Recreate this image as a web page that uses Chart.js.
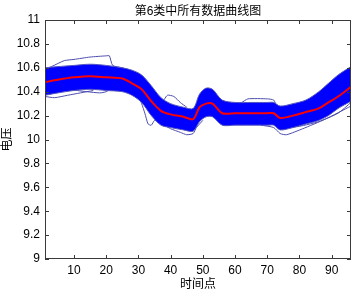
<!DOCTYPE html>
<html>
<head>
<meta charset="utf-8">
<script src="https://cdn.jsdelivr.net/npm/chart.js@4/dist/chart.umd.min.js"></script>
<style>
  html, body { margin: 0; padding: 0; background: #fff; }
  canvas { display: block; }
</style>
</head>
<body>
<canvas id="c" width="354" height="292"></canvas>
<script>
/* 第6类 电压曲线 — 均值 + 数据带 + 离群曲线 */

const xTicks = [10, 20, 30, 40, 50, 60, 70, 80, 90];
const yTicks = [9, 9.2, 9.4, 9.6, 9.8, 10, 10.2, 10.4, 10.6, 10.8, 11];

// 时间点 (采样位置)
const tPts   = [1, 5, 10, 15, 20, 25, 28, 31, 34, 37, 40, 44, 47, 49, 51, 53, 56, 60, 65, 70, 72, 74, 78, 82, 86, 89, 92, 96];
// 红色均值曲线
const meanV  = [10.48, 10.50, 10.52, 10.53, 10.52, 10.51, 10.47, 10.42, 10.32, 10.24, 10.21, 10.19, 10.17, 10.27, 10.30, 10.30, 10.22, 10.22, 10.22, 10.22, 10.22, 10.18, 10.20, 10.23, 10.26, 10.31, 10.36, 10.44];
// 蓝色数据带 上沿 / 下沿
const bandHi = [10.60, 10.61, 10.62, 10.63, 10.62, 10.60, 10.58, 10.54, 10.45, 10.35, 10.30, 10.27, 10.26, 10.38, 10.43, 10.42, 10.33, 10.31, 10.31, 10.31, 10.31, 10.28, 10.30, 10.33, 10.40, 10.47, 10.54, 10.61];
const bandLo = [10.37, 10.39, 10.41, 10.42, 10.41, 10.40, 10.37, 10.31, 10.20, 10.12, 10.10, 10.08, 10.07, 10.15, 10.19, 10.19, 10.12, 10.12, 10.12, 10.12, 10.12, 10.08, 10.10, 10.13, 10.16, 10.20, 10.26, 10.32];

// 离群曲线
const out1T = [1, 3, 7, 10, 15, 20, 21, 22, 25, 28];
const out1V = [10.59, 10.61, 10.66, 10.67, 10.69, 10.70, 10.70, 10.62, 10.60, 10.57];
const out2T = [5, 8, 11, 14, 18, 20, 22, 26];
const out2V = [10.40, 10.43, 10.41, 10.40, 10.39, 10.40, 10.43, 10.41];
const out3T = [30, 31, 32, 33, 34, 35, 36, 38];
const out3V = [10.36, 10.30, 10.22, 10.13, 10.12, 10.16, 10.15, 10.14];
const out4T = [35, 37, 39, 41, 43, 45];
const out4V = [10.33, 10.30, 10.37, 10.36, 10.31, 10.27];
const out5T = [58, 62, 64, 70, 72, 73, 75];
const out5V = [10.30, 10.31, 10.34, 10.34, 10.33, 10.28, 10.27];
const out6T = [68, 72, 74, 76, 81, 88, 96];
const out6V = [10.12, 10.10, 10.05, 10.04, 10.09, 10.17, 10.28];
const out7T = [76, 80, 86, 92, 96];
const out7V = [10.10, 10.11, 10.15, 10.22, 10.31];
const out8T = [38, 40, 43, 45, 47, 48, 50];
const out8V = [10.12, 10.09, 10.06, 10.04, 10.05, 10.10, 10.16];
const out9T = [1, 4, 8, 12, 16];
const out9V = [10.36, 10.35, 10.37, 10.39, 10.41];

const pts = (ts, vs) => ts.map((t, i) => ({x: t, y: vs[i]}));

const FONT = '"Liberation Sans", Arial, "Noto Sans CJK SC", sans-serif';
const outColor = '#4d4db0';

function outlier(ts, vs) {
    return {
        data: pts(ts, vs),
        borderColor: outColor,
        borderWidth: 1,
        pointRadius: 0,
        fill: false,
        tension: 0.2,
    };
}

// MATLAB 风格: 外框 + 四边朝内的刻度
const frame = {
    id: 'frame',
    afterDatasetsDraw(chart) {
        const {ctx, chartArea: a, scales: {x, y}} = chart;
        ctx.save();
        ctx.strokeStyle = '#3a3a3a';
        ctx.lineWidth = 1;
        ctx.strokeRect(a.left + 0.5, a.top + 0.5, a.right - a.left - 1, a.bottom - a.top - 1);
        ctx.beginPath();
        for (const v of xTicks) {
            const px = Math.round(x.getPixelForValue(v)) + 0.5;
            ctx.moveTo(px, a.bottom); ctx.lineTo(px, a.bottom - 4);
            ctx.moveTo(px, a.top); ctx.lineTo(px, a.top + 4);
        }
        for (const v of yTicks) {
            const py = Math.round(y.getPixelForValue(v)) + 0.5;
            ctx.moveTo(a.left, py); ctx.lineTo(a.left + 4, py);
            ctx.moveTo(a.right, py); ctx.lineTo(a.right - 4, py);
        }
        ctx.stroke();
        ctx.restore();
    }
};

new Chart(document.getElementById('c').getContext('2d'), {
    type: 'line',
    data: {
        datasets: [
            {
                data: pts(tPts, meanV),
                borderColor: '#ff0000',
                borderWidth: 2,
                pointRadius: 0,
                fill: false,
                tension: 0.3,
            },
            {
                data: pts(tPts, bandHi),
                borderColor: '#5555c0',
                borderWidth: 1,
                pointRadius: 0,
                fill: false,
                tension: 0.3,
            },
            {
                data: pts(tPts, bandLo),
                borderColor: '#5555c0',
                borderWidth: 1,
                pointRadius: 0,
                fill: 1,
                backgroundColor: '#0000ff',
                tension: 0.3,
            },
            outlier(out1T, out1V),
            outlier(out2T, out2V),
            outlier(out3T, out3V),
            outlier(out4T, out4V),
            outlier(out5T, out5V),
            outlier(out6T, out6V),
            outlier(out7T, out7V),
            outlier(out8T, out8V),
            outlier(out9T, out9V),
        ]
    },
    options: {
        responsive: false,
        animation: false,
        layout: { padding: { left: 0, right: 3, top: 0, bottom: 0 } },
        scales: {
            x: {
                type: 'linear',
                min: 1,
                max: 96,
                afterBuildTicks: s => { s.ticks = xTicks.map(v => ({value: v})); },
                afterFit: s => { s.height = 33; },
                grid: { display: false, drawTicks: false },
                border: { display: false },
                ticks: { color: '#000', padding: 4, font: { family: FONT, size: 12 } },
                title: { display: true, text: '时间点', color: '#000', padding: { top: 0, bottom: 0 }, font: { family: FONT, size: 12 } },
            },
            y: {
                min: 9,
                max: 11,
                afterBuildTicks: s => { s.ticks = yTicks.map(v => ({value: v})); },
                afterFit: s => { s.width = 45; },
                grid: { display: false, drawTicks: false },
                border: { display: false },
                ticks: { color: '#000', padding: 5, font: { family: FONT, size: 12 },
                         callback: v => String(Math.round(v * 10) / 10) },
                title: { display: true, text: '电压', color: '#000', padding: { top: 0, bottom: 0 }, font: { family: FONT, size: 12 } },
            }
        },
        plugins: {
            legend: { display: false },
            tooltip: { enabled: false },
            title: {
                display: true,
                fullSize: false,
                text: '第6类中所有数据曲线图',
                color: '#000',
                font: { family: FONT, size: 12, weight: 'normal' },
                padding: { top: 4, bottom: 1.6 },
            }
        }
    },
    plugins: [frame]
});
</script>
</body>
</html>
